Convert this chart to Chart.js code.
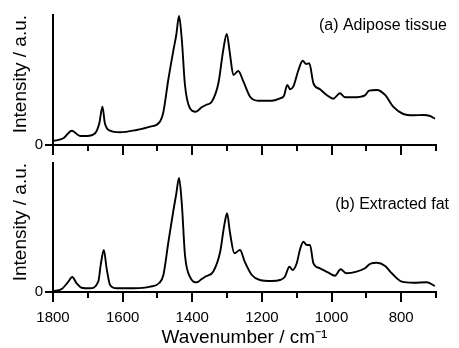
<!DOCTYPE html>
<html>
<head>
<meta charset="utf-8">
<script src="https://cdn.jsdelivr.net/npm/chart.js@4/dist/chart.umd.min.js"></script>
<style>
  body { margin: 0; background: #fff; }
  #wrap { position: relative; width: 459px; height: 348px; }
  #wrap canvas { position: absolute; left: 0; }
</style>
</head>
<body>
<div id="wrap">
  <canvas id="chartA" width="459" height="160" style="top:0"></canvas>
  <canvas id="chartB" width="459" height="188" style="top:160px"></canvas>
</div>
<script>
//*************DATA */
// wavenumber (cm-1) / intensity, arbitrary units
const wnA = [1800,1770,1746,1722,1703,1679,1667,1658,1651,1636,1608,1560,1521,1493,1483,1469,1454,1446,1438,1430,1421,1407,1390,1373,1361,1344,1325,1311,1301,1292,1282,1268,1253,1234,1210,1172,1148,1137,1127,1119,1110,1095,1083,1073,1064,1052,1033,1014,995,976,961,938,904,892,870,846,823,794,765,736,717,703];
const adipose = [4,6.7,14.3,9,9,11.7,21.7,38.3,21.7,14.3,12.7,15,18.3,23.3,33,65,95,110,129,105,60,37,33.3,37.7,40,43.3,61.7,95,111,91.7,70,74,63.3,48.3,44.3,44.3,46.7,49,60,55.7,58.3,75,84.3,81,81.7,61.7,55.7,50,46.3,51.7,47.7,47.7,49.7,54.3,55,50,38.3,31,29.7,30,29,26.3];

const wnB = [1800,1775,1756,1745,1732,1718,1694,1670,1663,1654,1646,1636,1617,1569,1521,1495,1483,1469,1454,1446,1438,1430,1421,1407,1387,1373,1363,1340,1320,1308,1300,1292,1279,1263,1249,1229,1206,1172,1148,1134,1121,1112,1100,1091,1081,1071,1062,1052,1033,1009,990,974,957,928,904,890,870,846,827,798,765,727,703];
const extractedFat = [1,3,10.3,15,8.7,4.3,3.7,10.3,27,42,23.7,7,3.7,3.7,5.3,9,17,49,82,98,114,88,37,15.3,9.7,13,15.3,20.3,40,67,78.7,60,38.7,42,30,17,12,11,12,15.3,25.3,22,28.7,42,50.3,47,47,28.7,23.7,19.3,16.3,22.7,18.7,20.3,23.7,28,29.3,26,18.7,10.3,9.3,9.7,6];

const majorTicks = [1800,1600,1400,1200,1000,800];
const minorTicks = [1700,1500,1300,1100,900,700];

Chart.defaults.font.family = '"Liberation Sans", Arial, sans-serif';
Chart.defaults.color = '#000';

// tick marks + panel caption, drawn through the chart scales
const decor = {
  id: 'decor',
  afterDraw(chart, args, opts) {
    const ctx = chart.ctx, xs = chart.scales.x, ys = chart.scales.y;
    ctx.save();
    ctx.strokeStyle = '#000';
    ctx.lineWidth = 2;
    ctx.beginPath();
    majorTicks.concat(minorTicks).forEach(v => {
      const px = Math.round(xs.getPixelForValue(v));
      const len = majorTicks.includes(v) ? 10 : 6;
      ctx.moveTo(px, xs.top);
      ctx.lineTo(px, xs.top + len);
    });
    const py = Math.round(ys.getPixelForValue(0));
    ctx.moveTo(ys.right - 8, py);
    ctx.lineTo(ys.right, py);
    ctx.stroke();
    ctx.fillStyle = '#000';
    ctx.font = '16px "Liberation Sans", Arial, sans-serif';
    ctx.textAlign = 'right';
    ctx.textBaseline = 'middle';
    ctx.fillText(opts.label, opts.lx, opts.ly);
    ctx.restore();
  }
};

// fixed box sizes so the plot area lands where the reference has it
function noPad(s) {
  s.paddingTop = 0; s.paddingBottom = 0; s.paddingLeft = 0; s.paddingRight = 0;
}

function makePanel(id, wn, vals, opt) {
  const ctx = document.getElementById(id).getContext('2d');
  return new Chart(ctx, {
    type: 'line',
    data: {
      datasets: [{
        data: wn.map((w, i) => ({x: w, y: vals[i]})),
        borderColor: '#000',
        borderWidth: 1.9,
        pointRadius: 0,
        fill: false,
        cubicInterpolationMode: 'monotone'
      }]
    },
    options: {
      responsive: false,
      animation: false,
      layout: { padding: { top: opt.padTop, right: 23, left: 0, bottom: 0 } },
      plugins: {
        legend: { display: false },
        tooltip: { enabled: false },
        decor: { label: opt.label, lx: opt.lx, ly: opt.ly }
      },
      scales: {
        x: {
          type: 'linear',
          min: 700, max: 1800,
          reverse: true,
          afterFit: s => { s.height = opt.xHeight; noPad(s); },
          afterBuildTicks: s => { s.ticks = majorTicks.map(v => ({value: v})); },
          grid: { display: false, drawTicks: false },
          border: { display: true, color: '#000', width: 2 },
          ticks: {
            display: opt.showX, font: { size: 15 }, padding: 17, color: '#000',
            callback: v => String(v)
          },
          title: {
            display: opt.showX,
            text: 'Wavenumber / cm⁻¹',
            font: { size: 19, lineHeight: 1.05 },
            padding: 0,
            color: '#000'
          }
        },
        y: {
          min: 0, max: opt.yMax,
          afterFit: s => { s.width = 53; noPad(s); },
          afterBuildTicks: s => { s.ticks = [{value: 0}]; },
          grid: { display: false, drawTicks: false },
          border: { display: true, color: '#000', width: 2 },
          ticks: { font: { size: 15 }, padding: 10, color: '#000' },
          title: {
            display: true,
            text: 'Intensity / a.u.',
            align: 'end',
            font: { size: 19 },
            padding: { top: 9, bottom: 0 },
            color: '#000'
          }
        }
      }
    },
    plugins: [decor]
  });
}

makePanel('chartA', wnA, adipose, {
  padTop: 15, xHeight: 15, yMax: 130, showX: false,
  label: '(a) Adipose tissue', lx: 447, ly: 26
});
makePanel('chartB', wnB, extractedFat, {
  padTop: 3, xHeight: 56, yMax: 129, showX: true,
  label: '(b) Extracted fat', lx: 449, ly: 45
});
</script>
</body>
</html>
